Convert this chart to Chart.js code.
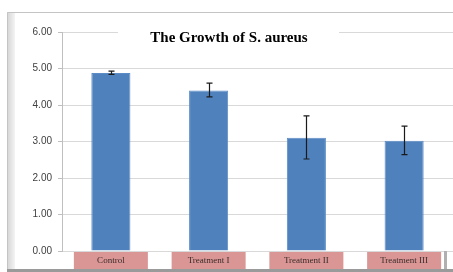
<!DOCTYPE html>
<html>
<head>
<meta charset="utf-8">
<script src="https://cdn.jsdelivr.net/npm/chart.js@4"></script>
<style>
  html, body { margin: 0; padding: 0; background: #fff; }
  #wrap { width: 453px; height: 272px; position: relative; }
</style>
</head>
<body>
<div id="wrap"><canvas id="chart"></canvas></div>
<script>
const categories = ['Control', 'Treatment I', 'Treatment II', 'Treatment III'];
const growth = [4.88, 4.40, 3.10, 3.02];
const errLow = [4.84, 4.22, 2.52, 2.64];
const errHigh = [4.93, 4.60, 3.70, 3.42];
const titleText = 'The Growth of S. aureus';

// frame, title, error bars and pink label boxes
const extras = {
  id: 'extras',
  beforeDraw(chart) {
    const c = chart.ctx;
    c.save();
    // left bevel
    const g = c.createLinearGradient(7, 0, 15, 0);
    g.addColorStop(0, '#d4d4d4');
    g.addColorStop(1, '#f4f4f4');
    c.fillStyle = g;
    c.fillRect(7, 12, 8, 258);
    c.strokeStyle = '#c4c4c4';
    c.lineWidth = 1;
    c.beginPath();
    c.moveTo(7.5, 270); c.lineTo(7.5, 12.5); c.lineTo(453, 12.5);
    c.stroke();
    c.restore();
  },
  afterDatasetsDraw(chart) {
    const c = chart.ctx;
    const x = chart.scales.x, y = chart.scales.y;
    c.save();
    // error bars
    c.strokeStyle = '#1a1a1a';
    c.lineWidth = 1.2;
    growth.forEach((v, i) => {
      const px = Math.round(x.getPixelForValue(i)) + 0.5;
      const lo = y.getPixelForValue(errLow[i]);
      const hi = y.getPixelForValue(errHigh[i]);
      c.beginPath();
      c.moveTo(px, hi); c.lineTo(px, lo);
      c.moveTo(px - 3, hi); c.lineTo(px + 3, hi);
      c.moveTo(px - 3, lo); c.lineTo(px + 3, lo);
      c.stroke();
    });
    // title with white box over the top gridline
    c.fillStyle = '#fff';
    c.fillRect(118, 26, 221, 22);
    c.fillStyle = '#000';
    c.font = 'bold 15px "Liberation Serif", serif';
    c.textAlign = 'center';
    c.textBaseline = 'middle';
    c.fillText(titleText, 229, 38);
    // category label boxes
    const base = y.getPixelForValue(0);
    categories.forEach((lab, i) => {
      const px = x.getPixelForValue(i);
      c.fillStyle = '#d99694';
      c.fillRect(px - 37, base + 1, 74, 18);
      c.fillStyle = '#3b2b2b';
      c.font = '9px "Liberation Serif", serif';
      c.fillText(lab, px, base + 10);
    });
    // bottom / right edge
    c.fillStyle = '#9a9a9a';
    c.fillRect(7, 269, 446, 3);
    c.fillStyle = '#b0b0b0';
    c.fillRect(444, 251, 3, 18);
    c.restore();
  }
};

new Chart(document.getElementById('chart'), {
  type: 'bar',
  data: {
    labels: categories,
    datasets: [{
      data: growth,
      backgroundColor: '#4f81bd',
      borderColor: '#5b8cc6',
      borderWidth: 1,
      barPercentage: 0.4,
      categoryPercentage: 1
    }]
  },
  options: {
    responsive: true,
    maintainAspectRatio: false,
    animation: false,
    layout: { padding: { left: 0, right: 0, top: 32, bottom: 21 } },
    plugins: { legend: { display: false }, tooltip: { enabled: false } },
    scales: {
      x: { display: false },
      y: {
        min: 0, max: 6,
        afterFit(s) { s.width = 62; },
        ticks: {
          stepSize: 1,
          padding: 6,
          color: '#404040',
          font: { family: '"Liberation Sans", sans-serif', size: 10 },
          callback: v => v.toFixed(2)
        },
        grid: { color: '#d9d9d9', tickLength: 4, tickColor: '#bfbfbf' },
        border: { color: '#bfbfbf' }
      }
    }
  },
  plugins: [extras]
});
</script>
</body>
</html>
